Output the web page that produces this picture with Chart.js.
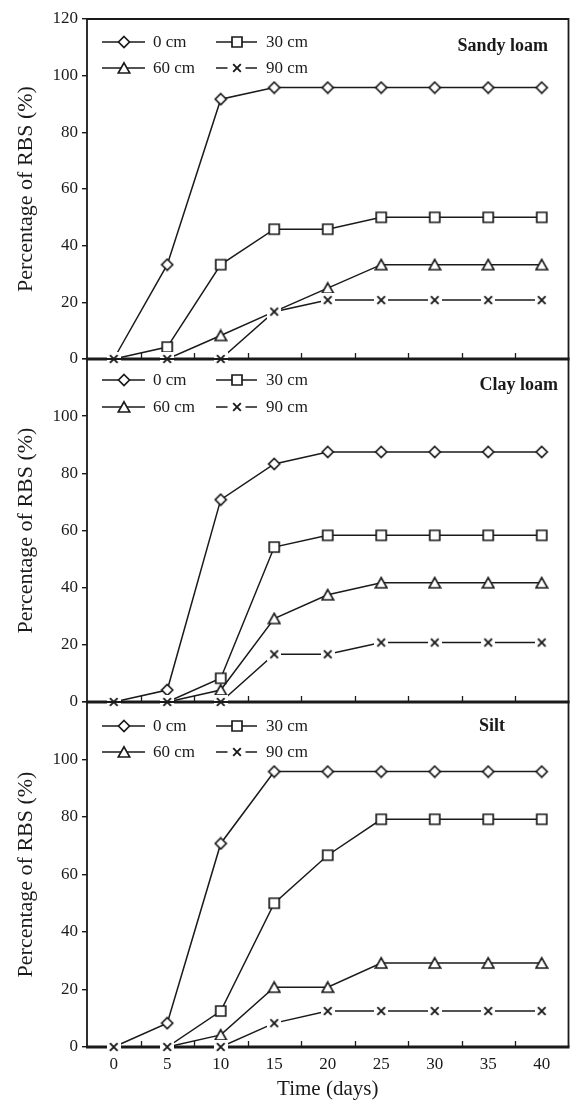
<!DOCTYPE html>
<html>
<head>
<meta charset="utf-8">
<script src="https://cdn.jsdelivr.net/npm/chart.js@4.4.1/dist/chart.umd.min.js"></script>
<style>
  body { margin: 0; background: #fff; }
  #wrap { position: relative; width: 576px; height: 1103px; }
  #wrap canvas { position: absolute; left: 0; }
</style>
</head>
<body>
<div id="wrap">
  <canvas id="sandyChart" width="576" height="380" style="top:0"></canvas>
  <canvas id="clayChart" width="576" height="380" style="top:340px"></canvas>
  <canvas id="siltChart" width="576" height="420" style="top:683px"></canvas>
</div>
<script>
// valores
const days = ['0', '5', '10', '15', '20', '25', '30', '35', '40'];
const depths = ['0 cm', '30 cm', '60 cm', '90 cm'];
const yTicks = [0, 20, 40, 60, 80, 100, 120];

const sandy0 = [0, 33.3, 91.7, 95.8, 95.8, 95.8, 95.8, 95.8, 95.8];
const sandy30 = [0, 4.2, 33.3, 45.8, 45.8, 50, 50, 50, 50];
const sandy60 = [0, 0, 8.3, 16.7, 25, 33.3, 33.3, 33.3, 33.3];
const sandy90 = [0, 0, 0, 16.7, 20.8, 20.8, 20.8, 20.8, 20.8];

const clay0 = [0, 4.2, 70.8, 83.3, 87.5, 87.5, 87.5, 87.5, 87.5];
const clay30 = [0, 0, 8.3, 54.2, 58.3, 58.3, 58.3, 58.3, 58.3];
const clay60 = [0, 0, 4.2, 29.2, 37.5, 41.7, 41.7, 41.7, 41.7];
const clay90 = [0, 0, 0, 16.7, 16.7, 20.8, 20.8, 20.8, 20.8];

const silt0 = [0, 8.3, 70.8, 95.8, 95.8, 95.8, 95.8, 95.8, 95.8];
const silt30 = [0, 0, 12.5, 50, 66.7, 79.2, 79.2, 79.2, 79.2];
const silt60 = [0, 0, 4.2, 20.8, 20.8, 29.2, 29.2, 29.2, 29.2];
const silt90 = [0, 0, 0, 8.3, 12.5, 12.5, 12.5, 12.5, 12.5];

const INK = '#1a1a1a';
const FONT = '"Liberation Serif", "Times New Roman", serif';

// marcadores estilo Excel (preenchimento branco)
function marker(kind) {
  const c = document.createElement('canvas');
  c.width = 14; c.height = 14;
  const g = c.getContext('2d');
  g.strokeStyle = INK;
  g.fillStyle = '#fff';
  g.lineWidth = 1.7;
  g.beginPath();
  if (kind === 'diamond') {
    g.moveTo(7, 1.5); g.lineTo(12.5, 7); g.lineTo(7, 12.5); g.lineTo(1.5, 7); g.closePath();
    g.fill(); g.stroke();
  } else if (kind === 'square') {
    g.rect(2, 2, 10, 10);
    g.fill(); g.stroke();
  } else if (kind === 'triangle') {
    g.moveTo(7, 1.8); g.lineTo(12.8, 12); g.lineTo(1.2, 12); g.closePath();
    g.fill(); g.stroke();
  } else {
    g.fillRect(0, 0, 14, 14);
    g.lineWidth = 1.9;
    g.moveTo(3.2, 3.2); g.lineTo(10.8, 10.8);
    g.moveTo(10.8, 3.2); g.lineTo(3.2, 10.8);
    g.stroke();
  }
  return c;
}
const markers = [marker('diamond'), marker('square'), marker('triangle'), marker('cross')];

const panelPlugin = {
  id: 'panel',
  beforeDatasetsDraw(chart) {
    const {ctx, chartArea: a, scales: {x}} = chart;
    ctx.save();
    ctx.strokeStyle = INK;
    ctx.lineWidth = 1.8;
    ctx.beginPath();
    ctx.moveTo(a.left, a.bottom); ctx.lineTo(a.left, a.top);
    ctx.lineTo(a.right, a.top); ctx.lineTo(a.right, a.bottom);
    ctx.stroke();
    // marcas para dentro entre os dias
    ctx.lineWidth = 1.3;
    ctx.beginPath();
    for (let i = 0; i < days.length - 1; i++) {
      const px = Math.round((x.getPixelForValue(i) + x.getPixelForValue(i + 1)) / 2) + 0.5;
      ctx.moveTo(px, a.bottom); ctx.lineTo(px, a.bottom - 6);
    }
    ctx.stroke();
    ctx.lineWidth = 3;
    ctx.beginPath();
    ctx.moveTo(a.left - 1, a.bottom); ctx.lineTo(a.right + 1, a.bottom);
    ctx.stroke();
    ctx.restore();
  },
  afterDraw(chart, args, o) {
    const {ctx, chartArea: a} = chart;
    ctx.save();
    const colLine = [[102, 145], [216, 257]];
    const colText = [153, 266];
    ctx.font = '17px ' + FONT;
    ctx.fillStyle = INK;
    ctx.textBaseline = 'middle';
    depths.forEach((d, i) => {
      const col = i % 2, row = Math.floor(i / 2);
      const y = a.top + o.legendY[row];
      ctx.strokeStyle = INK;
      ctx.lineWidth = 1.5;
      ctx.beginPath();
      ctx.moveTo(colLine[col][0], y); ctx.lineTo(colLine[col][1], y);
      ctx.stroke();
      const mx = (colLine[col][0] + colLine[col][1]) / 2;
      const m = markers[i];
      if (i === 3) {
        ctx.fillStyle = '#fff';
        ctx.fillRect(mx - 9, y - 4, 18, 8);
        ctx.fillStyle = INK;
      }
      ctx.drawImage(m, Math.round(mx - m.width / 2), Math.round(y - m.height / 2));
      ctx.textAlign = 'left';
      ctx.fillText(d, colText[col], y + 1);
    });
    ctx.font = 'bold 18px ' + FONT;
    ctx.textAlign = 'right';
    ctx.fillText(o.name, o.nameX, a.top + o.nameY);
    ctx.restore();
  }
};

function makeChart(id, series, cfg) {
  const datasets = series.map((s, i) => ({
    label: depths[i],
    data: s,
    borderColor: INK,
    backgroundColor: '#fff',
    borderWidth: 1.5,
    pointStyle: markers[i],
    pointRadius: 6,
    pointHoverRadius: 6,
    tension: 0,
    clip: false,
    order: 3 - i
  }));
  return new Chart(document.getElementById(id), {
    type: 'line',
    data: {labels: days, datasets: datasets},
    options: {
      responsive: false,
      animation: false,
      devicePixelRatio: 1,
      events: [],
      layout: {padding: {left: 0, right: 4, top: 19, bottom: cfg.padBottom}},
      plugins: {
        legend: {display: false},
        tooltip: {enabled: false},
        panel: cfg.panel
      },
      scales: {
        x: {
          type: 'category',
          offset: true,
          display: cfg.showX,
          grid: {drawOnChartArea: false, drawTicks: false},
          border: {display: false},
          ticks: {color: INK, font: {family: FONT, size: 17}, padding: 7, maxRotation: 0, autoSkip: false},
          title: {display: cfg.showX, text: 'Time (days)', color: INK, font: {family: FONT, size: 21}, padding: {top: 0, bottom: 1}},
          afterFit: s => { if (cfg.showX) s.height = 56; }
        },
        y: {
          min: 0,
          max: 120,
          afterBuildTicks: s => { s.ticks = yTicks.map(v => ({value: v})); },
          grid: {drawOnChartArea: false, tickLength: 5, color: INK, lineWidth: 1.4},
          border: {display: false},
          ticks: {
            color: INK,
            font: {family: FONT, size: 17},
            padding: 4,
            callback: v => (v === 120 && !cfg.show120) ? '' : v
          },
          title: {display: true, text: 'Percentage of RBS (%)', color: INK, font: {family: FONT, size: 22}, padding: {top: 13, bottom: 0}},
          afterFit: s => { s.width = 87; }
        }
      }
    },
    plugins: [panelPlugin]
  });
}

makeChart('sandyChart', [sandy0, sandy30, sandy60, sandy90], {
  padBottom: 21, showX: false, show120: true,
  panel: {name: 'Sandy loam', nameX: 548, nameY: 27, legendY: [23, 49]}
});
makeChart('clayChart', [clay0, clay30, clay60, clay90], {
  padBottom: 18, showX: false, show120: false,
  panel: {name: 'Clay loam', nameX: 558, nameY: 26, legendY: [21, 48]}
});
makeChart('siltChart', [silt0, silt30, silt60, silt90], {
  padBottom: 0, showX: true, show120: false,
  panel: {name: 'Silt', nameX: 505, nameY: 24, legendY: [24, 50]}
});
</script>
</body>
</html>
